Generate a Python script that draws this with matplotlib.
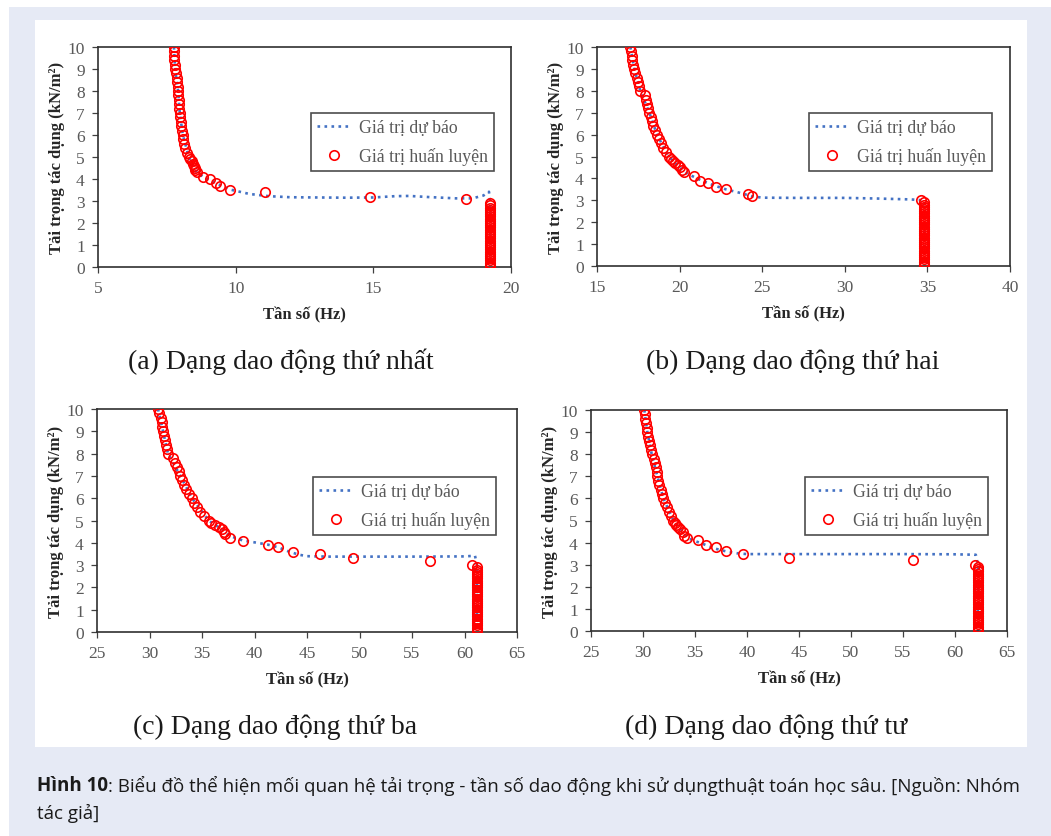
import matplotlib
matplotlib.use("Agg")
import matplotlib.pyplot as plt
from matplotlib.patches import Rectangle

plt.rcParams['font.family'] = ['Liberation Serif', 'DejaVu Serif']

# ---- training points (load kN/m2 vs frequency Hz) ----
load_curve_a = [10.0, 9.8, 9.6, 9.4, 9.2, 9.0, 8.8, 8.6, 8.4, 8.2, 8.0, 7.8, 7.6, 7.4, 7.2, 7.0,
                6.8, 6.6, 6.4, 6.2, 6.0, 5.8, 5.6, 5.4, 5.2, 5.0, 4.9, 4.8, 4.7, 4.6, 4.5, 4.4,
                4.3, 4.1, 4.0, 3.8, 3.7, 3.5, 3.4, 3.2, 3.1]
freq_curve_a = [7.76, 7.76, 7.77, 7.77, 7.78, 7.80, 7.85, 7.86, 7.88, 7.89, 7.91, 7.92, 7.93, 7.94,
                7.95, 7.97, 7.98, 8.00, 8.02, 8.06, 8.08, 8.10, 8.13, 8.17, 8.22, 8.30, 8.34, 8.40,
                8.45, 8.50, 8.52, 8.54, 8.58, 8.82, 9.06, 9.28, 9.44, 9.80, 11.05, 14.89, 18.36]

load_curve_b = [10.0, 9.8, 9.6, 9.4, 9.2, 9.0, 8.8, 8.6, 8.4, 8.2, 8.0, 7.8, 7.6, 7.4, 7.2, 7.0,
                6.8, 6.6, 6.4, 6.2, 6.0, 5.8, 5.6, 5.4, 5.2, 5.0, 4.9, 4.8, 4.7, 4.6, 4.5, 4.4,
                4.3, 4.1, 3.9, 3.8, 3.6, 3.5, 3.3, 3.2, 3.0]
freq_curve_b = [17.02, 17.05, 17.09, 17.14, 17.18, 17.26, 17.32, 17.40, 17.48, 17.55, 17.62, 17.92,
                17.98, 18.05, 18.10, 18.17, 18.24, 18.32, 18.40, 18.52, 18.63, 18.74, 18.86, 19.00,
                19.15, 19.33, 19.45, 19.58, 19.70, 19.88, 20.04, 20.12, 20.24, 20.85, 21.21, 21.69,
                22.20, 22.80, 24.17, 24.38, 34.60]

load_curve_c = [10.0, 9.8, 9.6, 9.4, 9.2, 9.0, 8.8, 8.6, 8.4, 8.2, 8.0, 7.8, 7.6, 7.4, 7.2, 7.0,
                6.8, 6.6, 6.4, 6.2, 6.0, 5.8, 5.6, 5.4, 5.2, 5.0, 4.9, 4.8, 4.7, 4.6, 4.5, 4.4,
                4.2, 4.1, 3.9, 3.8, 3.6, 3.5, 3.3, 3.2, 3.0]
freq_curve_c = [30.81, 30.95, 31.08, 31.15, 31.22, 31.29, 31.38, 31.46, 31.55, 31.65, 31.76, 32.24,
                32.42, 32.60, 32.78, 32.94, 33.10, 33.28, 33.50, 33.75, 34.05, 34.28, 34.55, 34.85,
                35.20, 35.63, 35.90, 36.27, 36.60, 36.90, 37.05, 37.22, 37.70, 38.90, 41.25, 42.24,
                43.67, 46.20, 49.35, 56.75, 60.71]

load_curve_d = [10.0, 9.8, 9.6, 9.4, 9.2, 9.0, 8.8, 8.6, 8.4, 8.2, 8.0, 7.8, 7.6, 7.4, 7.2, 7.0,
                6.8, 6.6, 6.4, 6.2, 6.0, 5.8, 5.6, 5.4, 5.2, 5.0, 4.9, 4.8, 4.7, 4.6, 4.5, 4.3,
                4.2, 4.1, 3.9, 3.8, 3.6, 3.5, 3.3, 3.2, 3.0]
freq_curve_d = [30.13, 30.18, 30.24, 30.31, 30.37, 30.42, 30.50, 30.57, 30.65, 30.75, 30.84, 31.06,
                31.14, 31.23, 31.30, 31.38, 31.48, 31.58, 31.70, 31.82, 31.96, 32.12, 32.32, 32.52,
                32.72, 32.92, 33.05, 33.20, 33.40, 33.60, 33.82, 33.95, 34.27, 35.33, 36.06, 37.03,
                37.99, 39.66, 44.05, 55.92, 61.88]

# low loads all sit at (almost) the same frequency
load_vert = [2.9, 2.8, 2.7, 2.6, 2.5, 2.4, 2.3, 2.2, 2.1, 2.0, 1.9, 1.8, 1.7, 1.6, 1.5,
             1.4, 1.3, 1.2, 1.1, 1.0, 0.9, 0.8, 0.7, 0.6, 0.5, 0.4, 0.3, 0.2, 0.1, 0.0]
freq_vert = {'a': 19.24, 'b': 34.82, 'c': 61.19, 'd': 62.20}

# ---- predicted curve ----
pred_freq_a = [7.76, 7.80, 7.91, 7.97, 8.08, 8.30, 8.58, 8.90, 9.30, 9.80, 10.5, 11.2, 12.0, 13.0,
               14.0, 15.0, 15.8, 16.3, 17.0, 18.0, 18.6, 19.0, 19.2, 19.24, 19.24]
pred_load_a = [10.0, 9.0, 8.0, 7.0, 6.0, 5.0, 4.3, 4.05, 3.8, 3.52, 3.32, 3.22, 3.17, 3.16,
               3.15, 3.16, 3.22, 3.23, 3.18, 3.12, 3.12, 3.25, 3.42, 3.0, 0.0]
pred_freq_b = [17.02, 17.26, 17.62, 18.17, 18.63, 19.33, 20.0, 20.5, 21.2, 22.0, 22.8, 23.6, 24.4,
               25.0, 27.0, 30.0, 32.0, 34.0, 34.7, 34.82, 34.82]
pred_load_b = [10.0, 9.0, 8.0, 7.0, 6.0, 5.0, 4.5, 4.2, 3.95, 3.7, 3.5, 3.35, 3.18,
               3.12, 3.11, 3.11, 3.08, 3.04, 3.0, 2.9, 0.0]
pred_freq_c = [30.81, 31.29, 31.76, 32.94, 34.05, 35.63, 36.9, 37.7, 38.9, 40.0, 41.25, 42.24,
               43.2, 44.2, 45.0, 47.0, 50.0, 55.0, 60.0, 61.0, 61.19, 61.19]
pred_load_c = [10.0, 9.0, 8.0, 7.0, 6.0, 5.0, 4.6, 4.3, 4.1, 4.02, 3.92, 3.8,
               3.62, 3.47, 3.40, 3.38, 3.38, 3.38, 3.39, 3.42, 3.0, 0.0]
pred_freq_d = [30.13, 30.42, 30.84, 31.38, 31.96, 32.92, 33.82, 34.3, 35.3, 36.1, 37.0, 38.0,
               39.0, 40.0, 45.0, 50.0, 55.0, 60.0, 62.0, 62.2, 62.2]
pred_load_d = [10.0, 9.0, 8.0, 7.0, 6.0, 5.0, 4.5, 4.2, 4.02, 3.88, 3.72, 3.6,
               3.52, 3.48, 3.48, 3.48, 3.48, 3.47, 3.45, 3.0, 0.0]

xlims = {'a': (5, 20), 'b': (15, 40), 'c': (25, 65), 'd': (25, 65)}
xticks = {'a': [5, 10, 15, 20], 'b': [15, 20, 25, 30, 35, 40],
          'c': [25, 30, 35, 40, 45, 50, 55, 60, 65], 'd': [25, 30, 35, 40, 45, 50, 55, 60, 65]}
yticks = [0, 1, 2, 3, 4, 5, 6, 7, 8, 9, 10]

captions = {'a': '(a) Dạng dao động thứ nhất', 'b': '(b) Dạng dao động thứ hai',
            'c': '(c) Dạng dao động thứ ba', 'd': '(d) Dạng dao động thứ tư'}

W, H = 1051, 837
fig = plt.figure(figsize=(W / 100, H / 100), dpi=100)
fig.patch.set_facecolor('white')

# background frames (pixel coords)
def px_rect(x0, y0, x1, y1, color):
    fig.patches.append(Rectangle((x0 / W, 1 - y1 / H), (x1 - x0) / W, (y1 - y0) / H,
                                 transform=fig.transFigure, facecolor=color, edgecolor='none', zorder=-10))

px_rect(9, 8, W, H, '#e6eaf5')
px_rect(35, 21, 1027, 748, 'white')

# axes boxes in pixels: left, top, right, bottom
boxes = {'a': (98, 48, 511, 268), 'b': (597, 48, 1010, 267),
         'c': (97, 410, 517, 633), 'd': (591, 411, 1007, 632)}
legend_pos = {'a': (311, 114), 'b': (809, 114), 'c': (313, 478), 'd': (805, 478)}
caption_pos = {'a': (281, 362), 'b': (793, 362), 'c': (275, 727), 'd': (766, 727)}

data = {
    'a': (freq_curve_a, load_curve_a, pred_freq_a, pred_load_a),
    'b': (freq_curve_b, load_curve_b, pred_freq_b, pred_load_b),
    'c': (freq_curve_c, load_curve_c, pred_freq_c, pred_load_c),
    'd': (freq_curve_d, load_curve_d, pred_freq_d, pred_load_d),
}

blue = '#4472c4'
grey = '#595959'

for key in ['a', 'b', 'c', 'd']:
    l, t, r, b = boxes[key]
    ax = fig.add_axes([l / W, 1 - b / H, (r - l) / W, (b - t) / H])
    fx, fy, px, py = data[key]
    tx = fx + [freq_vert[key]] * len(load_vert)
    ty = fy + load_vert

    ax.plot(px, py, linestyle=':', color=blue, linewidth=1.9, label='Giá trị dự báo', zorder=2)
    ax.plot(tx, ty, linestyle='none', marker='o', markersize=6.8, markerfacecolor='none',
            markeredgecolor='#ff0000', markeredgewidth=1.2, label='Giá trị huấn luyện', zorder=3)

    ax.set_xlim(*xlims[key])
    ax.set_ylim(0, 10)
    ax.set_xticks(xticks[key])
    ax.set_yticks(yticks)
    ax.tick_params(direction='out', length=4.5, width=0.9, colors='#404040', labelcolor=grey,
                   labelsize=12.5, pad=5)
    for s in ax.spines.values():
        s.set_color('#303030')
        s.set_linewidth(1.2)
    ax.set_xlabel('Tần số (Hz)', fontsize=12, fontweight='bold', color='#262626', labelpad=7)
    ax.set_ylabel('Tải trọng tác dụng (kN/m²)', fontsize=12, fontweight='bold', color='#262626',
                  labelpad=2)

    lx, ly = legend_pos[key]
    leg = ax.legend(loc='upper left', bbox_to_anchor=(lx / W, 1 - ly / H), bbox_transform=fig.transFigure,
                    fontsize=12.8, frameon=True, fancybox=False, borderaxespad=0, handlelength=1.9,
                    handletextpad=0.45, labelspacing=0.6, borderpad=0.35)
    leg.get_frame().set_edgecolor('#202020')
    leg.get_frame().set_linewidth(1.2)
    for txt in leg.get_texts():
        txt.set_color(grey)

    cx, cy = caption_pos[key]
    fig.text(cx / W, 1 - cy / H, captions[key], fontsize=20, ha='center', va='center', color='#1a1a1a')

# figure caption with bold lead
cap_font = ['Open Sans', 'DejaVu Sans']
renderer = fig.canvas.get_renderer()
t1 = fig.text(37 / W, 1 - 786 / H, 'Hình 10', fontsize=13.5, fontweight='bold', family=cap_font,
              va='center', ha='left', color='#1a1a1a')
bb = t1.get_window_extent(renderer)
fig.text(bb.x1 / W, 1 - 786 / H, ': Biểu đồ thể hiện mối quan hệ tải trọng - tần số dao động khi sử dụngthuật toán học sâu. [Nguồn: Nhóm',
         fontsize=13.5, family=cap_font, va='center', ha='left', color='#1a1a1a')
fig.text(37 / W, 1 - 813 / H, 'tác giả]', fontsize=13.5, family=cap_font, va='center', ha='left',
         color='#1a1a1a')

fig.savefig('out.png', dpi=100)
